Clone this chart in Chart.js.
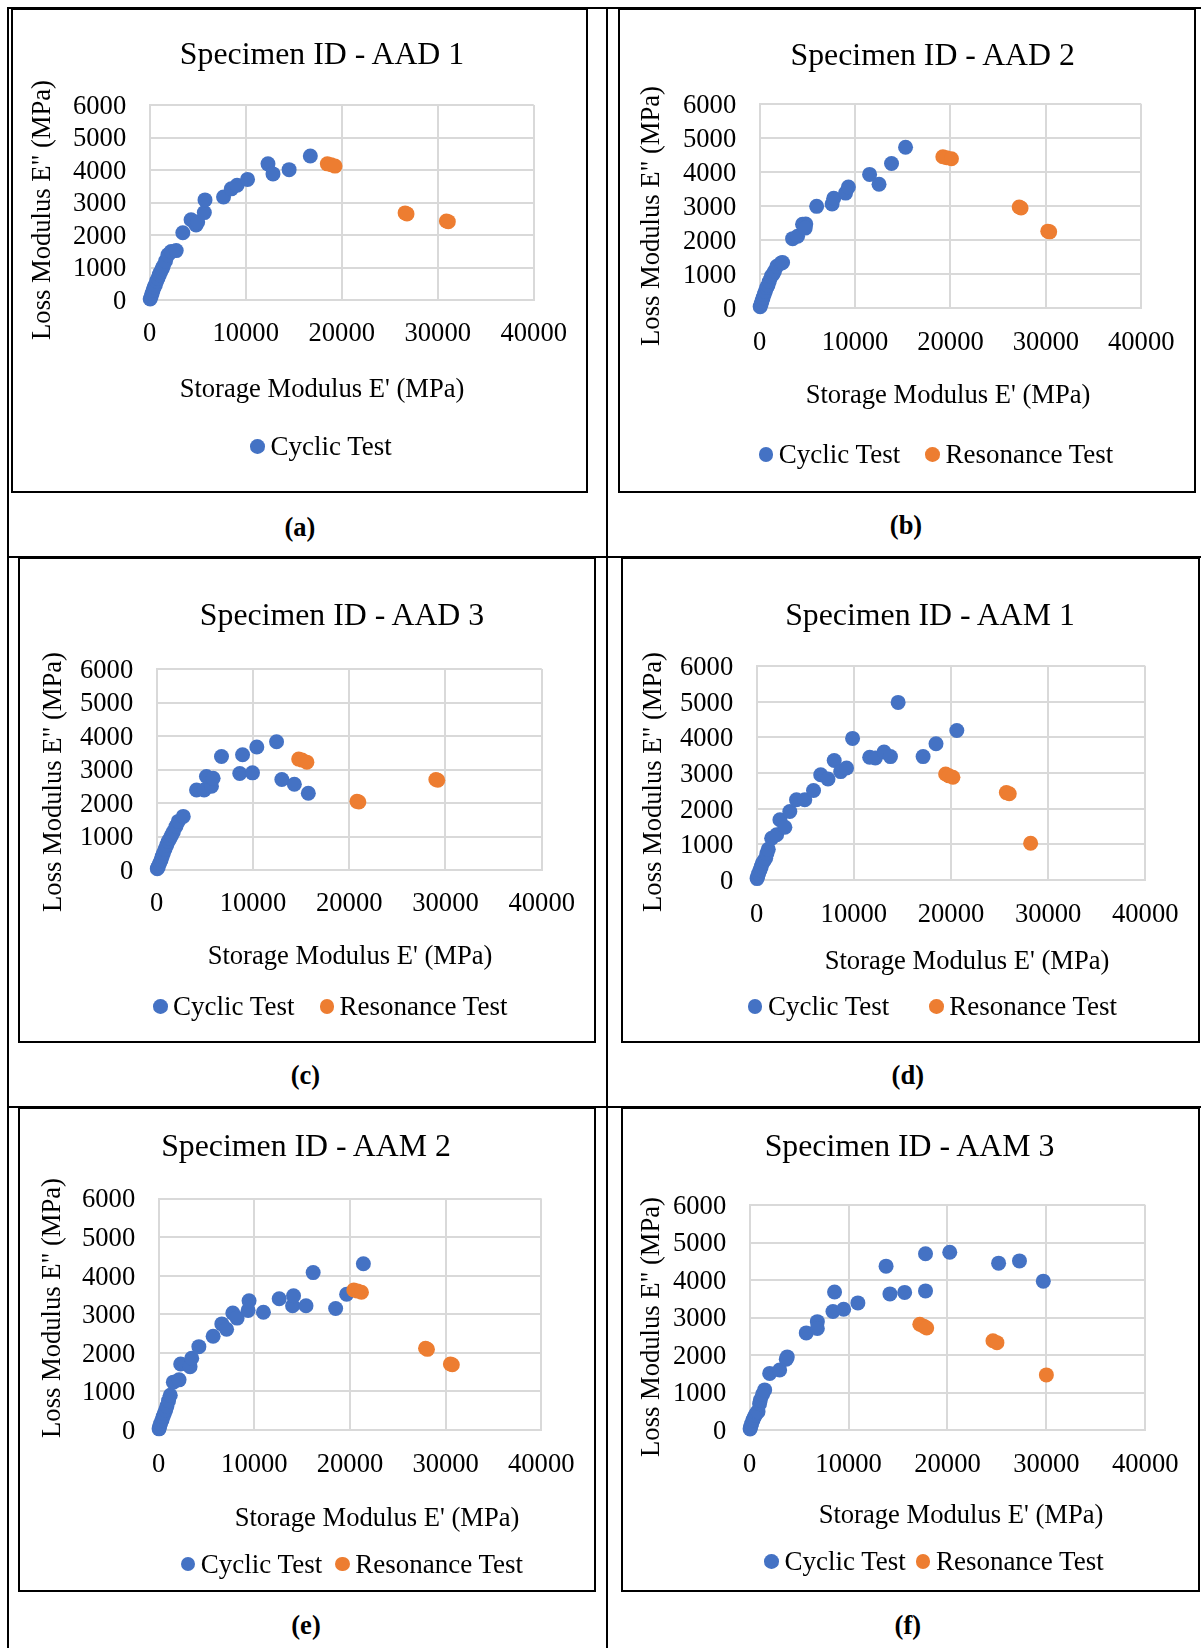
<!DOCTYPE html>
<html>
<head>
<meta charset="utf-8">
<title>Loss vs storage modulus – AAD / AAM specimens</title>
<script src="https://cdn.jsdelivr.net/npm/chart.js@4.4.1/dist/chart.umd.min.js"></script>
<style>
  html, body { margin: 0; padding: 0; background: #fff; }
  body { width: 1201px; height: 1648px; position: relative; overflow: hidden;
         font-family: 'Liberation Serif', 'Times New Roman', serif; color: #000; }
  .rule { position: absolute; background: #000; }
  .box { position: absolute; border: 2px solid #000; box-sizing: border-box; pointer-events: none; }
  canvas { position: absolute; }
  .txt { position: absolute; white-space: nowrap; line-height: 1; }
  .dot { position: absolute; border-radius: 50%; }
</style>
</head>
<body>
<script>
// Storage modulus E' (MPa), loss modulus E'' (MPa) pairs per specimen
const aad1Cyclic = [[50,30],[150,110],[250,200],[350,300],[470,400],[590,470],[720,580],[860,670],[1000,780],[1140,870],[1300,960],[1400,1030],[1650,1200],[1900,1390],[2240,1490],[2760,1520],[3450,2070],[4310,2470],[4830,2310],[5000,2400],[5690,2690],[5760,3080],[7690,3170],[8500,3420],[9100,3530],[10190,3710],[12320,4190],[12840,3880],[14520,4010],[16730,4430]];
const aad1Resonance = [[18500,4190],[18900,4160],[19300,4120],[26600,2680],[26800,2650],[30900,2430],[31100,2410]];

const aad2Cyclic = [[50,40],[150,120],[250,210],[350,300],[470,400],[590,490],[740,600],[860,660],[1000,780],[1210,930],[1400,1000],[1550,1080],[1800,1230],[2240,1320],[2400,1340],[3450,2040],[3970,2110],[4490,2460],[4830,2470],[4770,2350],[5970,2990],[7590,3060],[7760,3230],[9000,3380],[9300,3560],[11520,3930],[12510,3640],[13820,4250],[15290,4730]];
const aad2Resonance = [[19200,4450],[19600,4420],[20100,4390],[27200,2970],[27400,2940],[30200,2260],[30400,2240]];

const aad3Cyclic = [[60,40],[170,100],[300,200],[450,300],[570,400],[690,500],[860,620],[1040,745],[1200,850],[1380,940],[1550,1040],[1730,1140],[2000,1300],[2240,1450],[2760,1600],[4140,2390],[4930,2390],[5690,2500],[5170,2790],[5860,2740],[6730,3390],[8630,2880],[8920,3440],[9950,2900],[10400,3670],[12450,3830],[13000,2700],[14300,2560],[15750,2290]];
const aad3Resonance = [[14750,3310],[15100,3280],[15600,3220],[20800,2050],[21000,2030],[29000,2700],[29200,2680]];

const aam1Cyclic = [[40,40],[100,100],[200,180],[340,280],[460,370],[580,470],[750,540],[920,610],[1050,740],[1190,860],[1540,1170],[2050,1270],[2390,1690],[2900,1480],[3410,1920],[4100,2250],[4950,2250],[5850,2510],[6590,2950],[7340,2830],[7980,3350],[8650,3040],[9250,3140],[9870,3970],[11630,3440],[12210,3420],[13110,3590],[13770,3460],[14560,4980],[17130,3460],[18460,3820],[20600,4190]];
const aam1Resonance = [[19450,2970],[19800,2920],[20200,2880],[25700,2450],[26000,2420],[28200,1030]];

const aam2Cyclic = [[40,30],[100,90],[200,170],[345,260],[470,350],[590,430],[730,520],[860,620],[1030,760],[1210,900],[1530,1240],[2130,1300],[2300,1710],[3280,1640],[3450,1860],[4200,2160],[5690,2430],[6600,2750],[7100,2610],[7750,3030],[8200,2900],[9350,3100],[9450,3350],[10950,3050],[12600,3400],[14000,3220],[14100,3480],[15400,3220],[16150,4080],[18500,3150],[19650,3520],[21400,4310]];
const aam2Resonance = [[20400,3630],[20800,3600],[21200,3570],[27900,2120],[28100,2090],[30500,1710],[30700,1690]];

const aam3Cyclic = [[40,30],[100,90],[200,170],[337,270],[450,340],[572,400],[700,460],[842,490],[1000,700],[1077,800],[1300,950],[1515,1070],[2020,1510],[3030,1600],[3700,1890],[3800,1950],[5720,2590],[6840,2890],[6840,2710],[8420,3160],[8580,3680],[9500,3220],[10940,3390],[13790,4370],[14180,3630],[15670,3670],[17780,3710],[17780,4700],[20230,4740],[25170,4450],[27280,4510],[29690,3970]];
const aam3Resonance = [[17200,2820],[17600,2770],[17900,2720],[24600,2380],[25000,2330],[30000,1470]];

// Axis tick values
const xTicks = [0, 10000, 20000, 30000, 40000];
const yTicks = [0, 1000, 2000, 3000, 4000, 5000, 6000];

// Labels
const seriesNames = ['Cyclic Test', 'Resonance Test'];
const xAxisTitle = "Storage Modulus E' (MPa)";
const yAxisTitle = 'Loss Modulus E" (MPa)';

const BLUE = '#4472C4';
const ORANGE = '#ED7D31';
const GRID = '#d9d9d9';
const FONT = "'Liberation Serif', 'Times New Roman', serif";
const ASC = 0.8375;      // baseline position inside a line-height:1 box
const Y_AXIS_W = 90;     // room kept for the value labels left of each plot
const X_AXIS_H = 64;     // room kept for the value labels under each plot
const MARKER_R = 7.5;

// Panel layout on the page
const panels = [
  { title: 'Specimen ID - AAD 1', cyclic: aad1Cyclic, resonance: aad1Resonance, legendRes: false,
    box: [11, 8, 577, 485], plot: [149.7, 105, 536.5, 300],
    titleX: 322, titleBase: 64.3, yTitle: [41, 210], xTitle: [322, 397], xPad: 21,
    legendY: 446.4, legendX: [257.6], caption: '(a)', capX: 300, capBase: 536.5 },
  { title: 'Specimen ID - AAD 2', cyclic: aad2Cyclic, resonance: aad2Resonance, legendRes: true,
    box: [618, 8, 578, 485], plot: [759.7, 104, 1145.5, 308],
    titleX: 932.7, titleBase: 65.4, yTitle: [649.8, 216], xTitle: [948, 403.6], xPad: 21.5,
    legendY: 454.3, legendX: [766, 932.7], caption: '(b)', capX: 906, capBase: 534.5 },
  { title: 'Specimen ID - AAD 3', cyclic: aad3Cyclic, resonance: aad3Resonance, legendRes: true,
    box: [18, 557, 578, 486], plot: [156.7, 669, 543.5, 870],
    titleX: 342, titleBase: 625.7, yTitle: [51.7, 782], xTitle: [350, 964.5], xPad: 21,
    legendY: 1006.4, legendX: [160.3, 326.8], caption: '(c)', capX: 305.4, capBase: 1084.5 },
  { title: 'Specimen ID - AAM 1', cyclic: aam1Cyclic, resonance: aam1Resonance, legendRes: true,
    box: [621, 557, 579, 486], plot: [756.7, 666, 1148, 880],
    titleX: 930, titleBase: 625.7, yTitle: [651.7, 782], xTitle: [967, 969.6], xPad: 21.5,
    legendY: 1006.4, legendX: [755.2, 936.5], caption: '(d)', capX: 907.8, capBase: 1084.5 },
  { title: 'Specimen ID - AAM 2', cyclic: aam2Cyclic, resonance: aam2Resonance, legendRes: true,
    box: [18, 1107, 578, 485], plot: [158.7, 1198.5, 545, 1430],
    titleX: 306, titleBase: 1157, yTitle: [50.6, 1308], xTitle: [377, 1526.4], xPad: 21.5,
    legendY: 1564.2, legendX: [188, 342.4], caption: '(e)', capX: 306, capBase: 1634.4 },
  { title: 'Specimen ID - AAM 3', cyclic: aam3Cyclic, resonance: aam3Resonance, legendRes: true,
    box: [621, 1107, 579, 485], plot: [749.7, 1205, 1147.5, 1430],
    titleX: 909.5, titleBase: 1157, yTitle: [650, 1327], xTitle: [961, 1523.6], xPad: 21.5,
    legendY: 1561.4, legendX: [771.7, 923.1], caption: '(f)', capX: 907.8, capBase: 1634.4 }
];

function el(tag, cls) {
  const d = document.createElement(tag);
  if (cls) d.className = cls;
  document.body.appendChild(d);
  return d;
}

function rule(x, y, w, h) {
  const d = el('div', 'rule');
  Object.assign(d.style, { left: x + 'px', top: y + 'px', width: w + 'px', height: h + 'px' });
}

function text(str, x, base, size, centered, bold) {
  const d = el('div', 'txt');
  d.textContent = str;
  d.style.fontSize = size + 'px';
  if (bold) d.style.fontWeight = 'bold';
  d.style.left = x + 'px';
  d.style.top = (base - ASC * size) + 'px';
  if (centered) d.style.transform = 'translateX(-50%)';
}

function vtext(str, cx, cy, size) {
  const d = el('div', 'txt');
  d.textContent = str;
  d.style.fontSize = size + 'px';
  d.style.left = cx + 'px';
  d.style.top = cy + 'px';
  d.style.transform = 'translate(-50%, -50%) rotate(-90deg)';
}

function legendItem(cx, cy, color, label) {
  const r = 7.3;
  const d = el('div', 'dot');
  Object.assign(d.style, { left: (cx - r) + 'px', top: (cy - r) + 'px',
    width: (2 * r) + 'px', height: (2 * r) + 'px', background: color });
  text(label, cx + 12.8, cy + 9, 27, false, false);
}

const toPoints = arr => arr.map(([x, y]) => ({ x, y }));

panels.forEach(p => {
  const [bx, by, bw, bh] = p.box;
  const [L, T, R, B] = p.plot;

  const canvas = el('canvas');
  canvas.width = bw;
  canvas.height = bh;
  Object.assign(canvas.style, { left: bx + 'px', top: by + 'px', width: bw + 'px', height: bh + 'px' });

  const tickFont = { family: FONT, size: 26.6, lineHeight: 1 };
  new Chart(canvas, {
    type: 'scatter',
    data: {
      datasets: [
        { label: seriesNames[0], data: toPoints(p.cyclic), backgroundColor: BLUE,
          borderWidth: 0, pointRadius: MARKER_R, pointHoverRadius: MARKER_R, clip: false, order: 1 },
        { label: seriesNames[1], data: toPoints(p.resonance), backgroundColor: ORANGE,
          borderWidth: 0, pointRadius: MARKER_R, pointHoverRadius: MARKER_R, clip: false, order: 0 }
      ]
    },
    options: {
      responsive: false,
      animation: false,
      devicePixelRatio: 1,
      layout: { padding: {
        left: L - bx - Y_AXIS_W, top: T - by,
        right: bx + bw - R, bottom: by + bh - B - X_AXIS_H } },
      plugins: { legend: { display: false }, title: { display: false }, tooltip: { enabled: false } },
      events: [],
      scales: {
        x: {
          type: 'linear', position: 'bottom',
          min: xTicks[0], max: xTicks[xTicks.length - 1],
          afterFit: s => { s.height = X_AXIS_H; },
          ticks: { stepSize: xTicks[1] - xTicks[0], autoSkip: false, maxRotation: 0, minRotation: 0,
                   padding: p.xPad, color: '#000', font: tickFont, callback: v => String(v) },
          grid: { color: GRID, lineWidth: 2, drawTicks: false },
          border: { color: GRID, width: 2 }
        },
        y: {
          type: 'linear', position: 'left',
          min: yTicks[0], max: yTicks[yTicks.length - 1],
          afterFit: s => { s.width = Y_AXIS_W; },
          ticks: { stepSize: yTicks[1] - yTicks[0], autoSkip: false, labelOffset: 2,
                   padding: 23.5, color: '#000', font: tickFont, callback: v => String(v) },
          grid: { color: GRID, lineWidth: 2, drawTicks: false },
          border: { color: GRID, width: 2 }
        }
      }
    }
  });

  const box = el('div', 'box');
  Object.assign(box.style, { left: bx + 'px', top: by + 'px', width: bw + 'px', height: bh + 'px' });

  text(p.title, p.titleX, p.titleBase, 31.8, true, false);
  vtext(yAxisTitle, p.yTitle[0], p.yTitle[1], 26.6);
  text(xAxisTitle, p.xTitle[0], p.xTitle[1], 26.6, true, false);
  legendItem(p.legendX[0], p.legendY, BLUE, seriesNames[0]);
  if (p.legendRes) legendItem(p.legendX[1], p.legendY, ORANGE, seriesNames[1]);
  text(p.caption, p.capX, p.capBase, 26.5, true, true);
});

// Table frame around the six panels
rule(7, 7, 1194, 2);
rule(7, 556, 1194, 2);
rule(7, 1106, 1194, 2);
rule(7, 7, 2, 1641);
rule(606, 7, 2, 1641);
</script>
</body>
</html>
